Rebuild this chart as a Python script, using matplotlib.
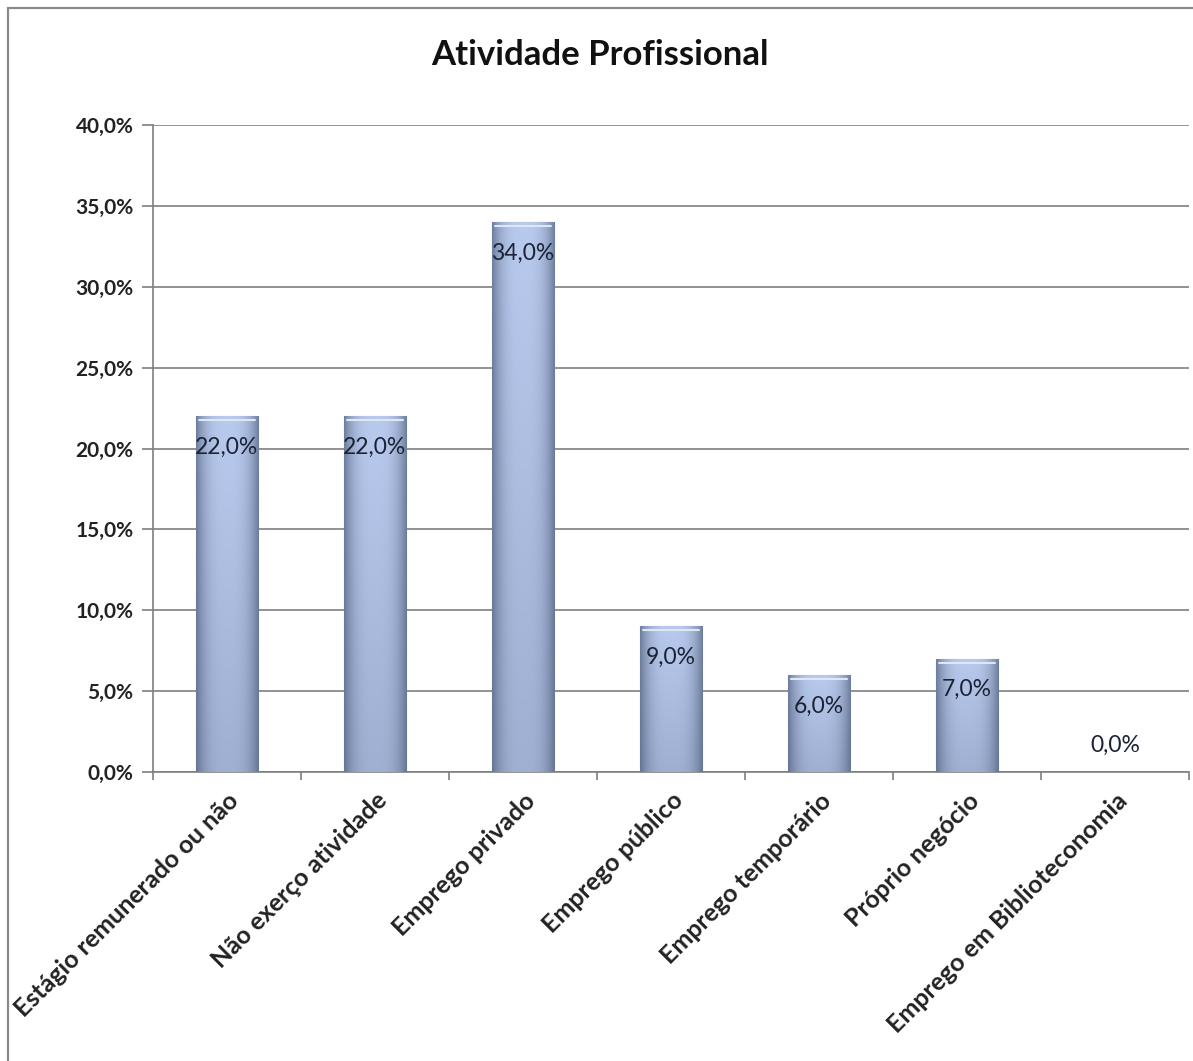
import numpy as np
import matplotlib
matplotlib.use("Agg")
import matplotlib.pyplot as plt
from matplotlib.patches import Rectangle
from matplotlib.ticker import FuncFormatter, MultipleLocator

categories = ["Estágio remunerado ou não", "Não exerço atividade", "Emprego privado",
              "Emprego público", "Emprego temporário", "Próprio negócio",
              "Emprego em Biblioteconomia"]
values = [22.0, 22.0, 34.0, 9.0, 6.0, 7.0, 0.0]
title = "Atividade Profissional"
header = "GRÁFICO 06 – Atividade Profissional"

plt.rcParams['font.family'] = ['Lato', 'DejaVu Sans']

W, H = 1193, 1061
fig = plt.figure(figsize=(W / 100, H / 100), dpi=100)
fig.patch.set_facecolor('white')

# outer frame
fig.add_artist(Rectangle((8 / W, -0.05), 1.2, 1 - 8 / H + 0.05, transform=fig.transFigure,
                         fill=False, edgecolor='#8a8a8a', linewidth=1.6))
fig.text(0.0, 1.004, header, family='Liberation Serif', fontweight='bold', fontsize=14,
         ha='left', va='center', color='#222222')

ax = fig.add_axes([153 / W, 1 - 772 / H, (1189 - 153) / W, (772 - 125) / H])
x = np.arange(len(categories))
bw = 0.42
bars = ax.bar(x, values, width=bw, color='#9fb1d4', zorder=3)

# gradient fill for bars
nx, ny = 64, 64
u = np.linspace(-1, 1, nx)
v = np.linspace(0, 1, ny)[:, None]
horiz = 1 - 0.65 * np.abs(u) ** 3
vert = 0.78 + 0.22 * v
shade = horiz[None, :] * vert
top_c = np.array([0.72, 0.79, 0.93])
dark_c = np.array([0.40, 0.46, 0.58])
img = dark_c + (top_c - dark_c) * ((shade - shade.min()) / (shade.max() - shade.min()))[..., None]
for b in bars:
    h = b.get_height()
    if h <= 0:
        continue
    x0 = b.get_x()
    im = ax.imshow(img, extent=[x0, x0 + bw, 0, h], origin='lower', aspect='auto',
                   zorder=4, interpolation='bicubic')
    im.set_clip_path(b)
    ax.plot([x0 + 0.02, x0 + bw - 0.02], [h - 0.25, h - 0.25], color='#dfe6f5',
            lw=1.5, zorder=5, solid_capstyle='round')
    b.set_edgecolor('#8ea0c2')
    b.set_linewidth(0.8)

for xi, val in zip(x, values):
    off = 27 if val == 0 else -31
    ax.annotate(f"{val:.1f}%".replace('.', ','), (xi, val), xytext=(0, off),
                textcoords='offset pixels',
                ha='center', va='center', fontsize=16.5, color='#1b2235', zorder=6)

ax.set_xlim(-0.5, len(categories) - 0.5)
ax.set_ylim(0, 40)
ax.yaxis.set_major_locator(MultipleLocator(5))
ax.yaxis.set_major_formatter(FuncFormatter(lambda v, p: f"{v:.1f}%".replace('.', ',')))
ax.grid(axis='y', color='#7f7f7f', linewidth=1.2, zorder=1)
ax.set_axisbelow(True)
for s in ['top', 'right']:
    ax.spines[s].set_visible(False)
ax.spines['left'].set_color('#7f7f7f')
ax.spines['bottom'].set_color('#7f7f7f')
ax.spines['left'].set_linewidth(1.2)
ax.spines['bottom'].set_linewidth(1.2)
ax.tick_params(axis='y', length=8, width=1.2, color='#7f7f7f', pad=6, labelsize=15)
for lab in ax.get_yticklabels():
    lab.set_fontweight('bold')
    lab.set_color('#222222')

ax.set_xticks(x)
ax.set_xticklabels(categories, rotation=45, ha='right', va='top', rotation_mode='anchor',
                   fontsize=18, fontweight='bold', color='#222222')
ax.tick_params(axis='x', length=0, pad=12)
for lab in ax.get_xticklabels():
    lab.set_x(lab.get_position()[0])
ax.set_xticks(np.arange(len(categories) + 1) - 0.5, minor=True)
ax.tick_params(axis='x', which='minor', length=6, width=1.2, color='#7f7f7f')

fig.text(600 / W, 1 - 55 / H, title, ha='center', va='center', fontsize=25,
         fontweight='bold', color='#111111')

fig.savefig('out.png', dpi=100, facecolor='white')
